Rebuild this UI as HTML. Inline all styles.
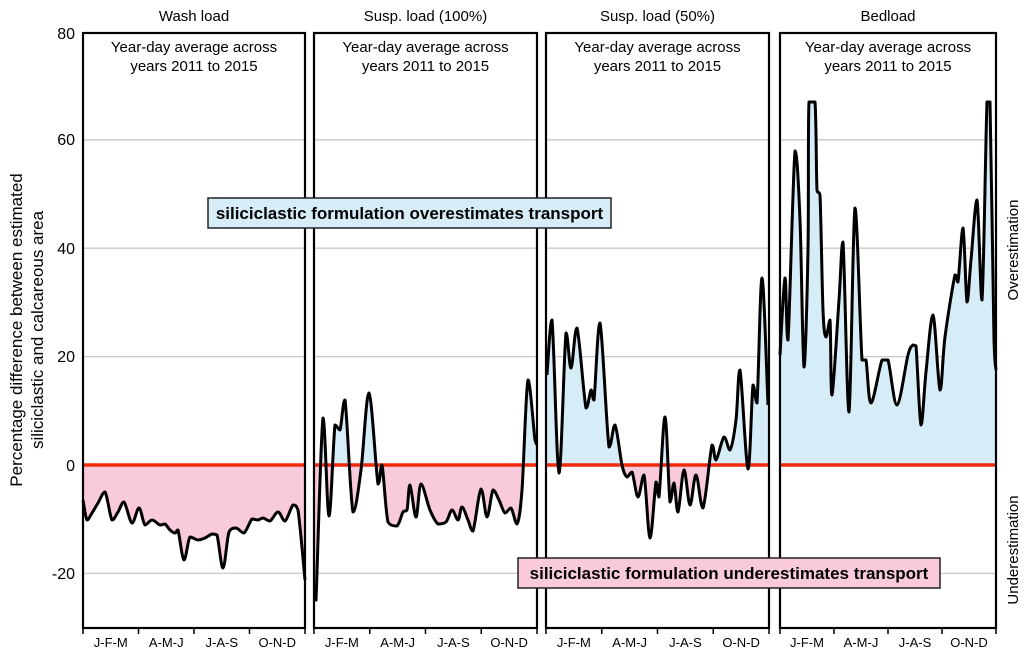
<!DOCTYPE html>
<html><head><meta charset="utf-8"><style>
body{margin:0;background:#fff;}
svg{display:block;font-family:"Liberation Sans",sans-serif;}
</style></head><body>
<svg id="s" width="1024" height="658" viewBox="0 0 1024 658" xmlns="http://www.w3.org/2000/svg">
<defs>
<clipPath id="above"><rect x="0" y="0" width="1024" height="465"/></clipPath>
<clipPath id="below"><rect x="0" y="465" width="1024" height="200"/></clipPath>
</defs>
<g id="g"></g>
<text x="75" y="39" font-size="16" text-anchor="end">80</text>
<text x="75" y="145" font-size="16" text-anchor="end">60</text>
<text x="75" y="254" font-size="16" text-anchor="end">40</text>
<text x="75" y="362" font-size="16" text-anchor="end">20</text>
<text x="75" y="471" font-size="16" text-anchor="end">0</text>
<text x="75" y="579" font-size="16" text-anchor="end">-20</text>
<text transform="translate(22,330) rotate(-90)" font-size="17" text-anchor="middle">Percentage difference between estimated</text>
<text transform="translate(43,330) rotate(-90)" font-size="17" text-anchor="middle">siliciclastic and calcareous area</text>
<text transform="translate(1018,250) rotate(-90)" font-size="15" text-anchor="middle">Overestimation</text>
<text transform="translate(1018,550) rotate(-90)" font-size="15" text-anchor="middle">Underestimation</text>
<rect x="208" y="198" width="403" height="30" fill="#d6edf7" stroke="#222" stroke-width="1.5"/>
<text x="409.5" y="219" font-size="17" font-weight="bold" text-anchor="middle">siliciclastic formulation overestimates transport</text>
<rect x="518" y="558" width="422" height="30" fill="#f8cadc" stroke="#222" stroke-width="1.5"/>
<text x="729" y="579" font-size="17" font-weight="bold" text-anchor="middle">siliciclastic formulation underestimates transport</text>
</svg>
<script>
(function(){
var panels=[
{x0:83,x1:305,t:"Wash load",p:[[83,500],[87,520],[92,513],[98,503],[105,492],[112,520],[118,512],[124,502],[132,523],[139,508],[145,525],[152,520],[160,525],[165,524],[170,530],[175,533],[178,530],[184,560],[190,537],[198,540],[205,538],[212,534],[217,535],[223,568],[229,532],[236,528],[244,533],[252,519],[258,520],[263,518],[270,521],[278,512],[285,521],[293,505],[298,510],[305,580]]},
{x0:314,x1:537,t:"Susp. load (100%)",p:[[315,590],[316,600],[323,418],[329,516],[335,425],[340,430],[345,400],[353,512],[361,470],[369,393],[378,484],[382,465],[388,522],[397,526],[403,512],[407,510],[410,485],[416,517],[421,484],[430,510],[438,524],[446,522],[452,510],[458,520],[462,507],[468,520],[473,531],[481,489],[487,517],[493,490],[499,500],[505,513],[511,508],[517,524],[522,490],[528,380],[535,440],[537,445]]},
{x0:546,x1:769,t:"Susp. load (50%)",p:[[547,375],[552,320],[559,473],[566,333],[571,368],[577,328],[586,408],[591,390],[594,400],[600,323],[609,447],[615,425],[622,465],[627,477],[632,472],[638,497],[644,475],[650,538],[656,482],[659,497],[665,417],[670,502],[674,483],[678,512],[684,470],[690,505],[696,475],[703,508],[712,445],[716,460],[724,437],[730,450],[736,420],[740,370],[748,469],[753,385],[757,403],[762,278],[768,405]]},
{x0:780,x1:996,t:"Bedload",p:[[780,355],[785,278],[788,340],[795,151],[800,220],[804,367],[808,250],[809,102],[815,102],[817,190],[820,195],[823,310],[826,337],[830,320],[832,395],[839,300],[843,242],[849,412],[855,208],[862,360],[866,360],[871,403],[882,360],[888,360],[897,405],[908,355],[913,345],[916,346],[921,425],[926,372],[933,315],[940,390],[945,337],[955,275],[958,282],[963,228],[967,302],[971,260],[977,200],[982,300],[987,102],[990,102],[994,340],[996,370]]}
];
function cl(v,a,b){var lo=Math.min(a,b),hi=Math.max(a,b);return Math.max(lo,Math.min(hi,v));}
function smooth(p){var d="M"+p[0][0]+","+p[0][1];for(var i=0;i<p.length-1;i++){var a=p[Math.max(0,i-1)],b=p[i],c=p[i+1],e=p[Math.min(p.length-1,i+2)];var k=6;
var y1=cl(b[1]+(c[1]-a[1])/k,b[1],c[1]),y2=cl(c[1]-(e[1]-b[1])/k,b[1],c[1]);
d+=" C"+(b[0]+(c[0]-a[0])/k)+","+y1+" "+(c[0]-(e[0]-b[0])/k)+","+y2+" "+c[0]+","+c[1];}return d;}
var h="",y0=465,ptop=33,bot=628;
var q=["J-F-M","A-M-J","J-A-S","O-N-D"];
panels.forEach(function(P){var w=P.x1-P.x0;
 [60,40,20,-20].forEach(function(v){var y=465-5.42*v;h+='<line x1="'+P.x0+'" x2="'+P.x1+'" y1="'+y+'" y2="'+y+'" stroke="#c8c8c8" stroke-width="1.3"/>';});
 var d=smooth(P.p);var f=d+" L"+P.p[P.p.length-1][0]+","+y0+" L"+P.p[0][0]+","+y0+" Z";
 h+='<path d="'+f+'" fill="#d6edf7" clip-path="url(#above)"/><path d="'+f+'" fill="#f8cadc" clip-path="url(#below)"/>';
 h+='<line x1="'+P.x0+'" x2="'+P.x1+'" y1="'+y0+'" y2="'+y0+'" stroke="#f02a0a" stroke-width="3.5"/>';
 h+='<path d="'+d+'" fill="none" stroke="#000" stroke-width="3" stroke-linejoin="round"/>';
 h+='<rect x="'+P.x0+'" y="'+ptop+'" width="'+w+'" height="'+(bot-ptop)+'" fill="none" stroke="#000" stroke-width="2.2"/>';
 var cx=(P.x0+P.x1)/2;
 h+='<text x="'+cx+'" y="21" font-size="15" text-anchor="middle">'+P.t+'</text>';
 h+='<text x="'+cx+'" y="52" font-size="15" text-anchor="middle">Year-day average across</text>';
 h+='<text x="'+cx+'" y="71" font-size="15" text-anchor="middle">years 2011 to 2015</text>';
 for(var i=0;i<=4;i++){var x=P.x0+w*i/4;h+='<line x1="'+x+'" x2="'+x+'" y1="'+bot+'" y2="'+(bot+6)+'" stroke="#000" stroke-width="1.5"/>';}
 for(var j=0;j<4;j++){h+='<text x="'+(P.x0+w*(j+0.5)/4)+'" y="647" font-size="13" text-anchor="middle">'+q[j]+'</text>';}
});
document.getElementById("g").innerHTML=h;
})();
</script>
</body></html>
